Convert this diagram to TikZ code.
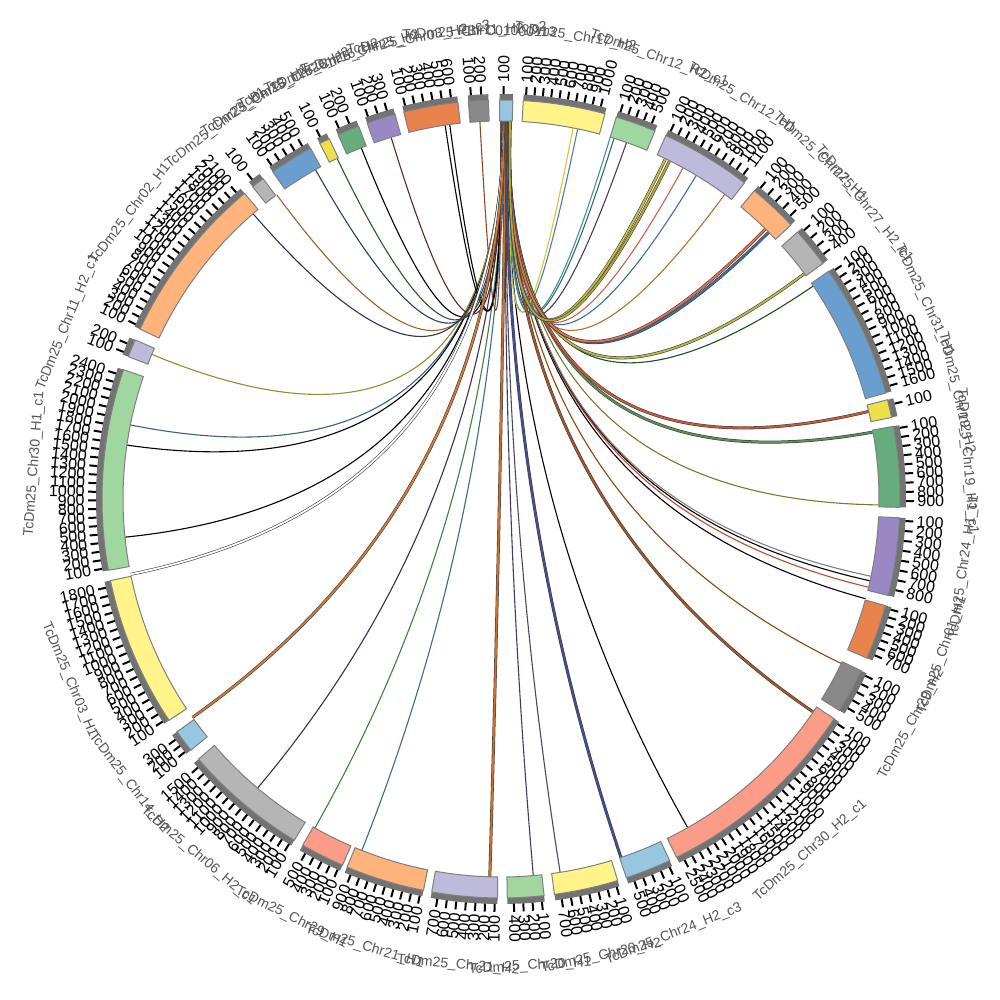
\documentclass[tikz,border=0pt]{standalone}
\usepackage{fontspec}
\setmainfont{Liberation Sans}
\usetikzlibrary{calc}
\definecolor{clblue}{HTML}{97C6E0}
\definecolor{cyel}{HTML}{FFF38A}
\definecolor{clgreen}{HTML}{A0D6A0}
\definecolor{clav}{HTML}{BDBADB}
\definecolor{clorange}{HTML}{FDB37A}
\definecolor{clgray}{HTML}{B5B5B5}
\definecolor{cblue}{HTML}{6A9ECE}
\definecolor{cyeltwo}{HTML}{EDE04A}
\definecolor{cgreen}{HTML}{66AD7E}
\definecolor{cpurple}{HTML}{9A88C4}
\definecolor{cdorange}{HTML}{E8834E}
\definecolor{cdgray}{HTML}{888888}
\definecolor{csalmon}{HTML}{FA9C88}
\definecolor{cband}{HTML}{737373}
\definecolor{cname}{HTML}{555555}
\definecolor{la}{HTML}{3F5F7A}
\definecolor{lb}{HTML}{8F8F30}
\definecolor{lc}{HTML}{3A2F4F}
\definecolor{ld}{HTML}{3F7F3F}
\definecolor{le}{HTML}{3F6A8F}
\definecolor{lf}{HTML}{3F3A6A}
\definecolor{lg}{HTML}{4A4A5A}
\definecolor{lh}{HTML}{8B4513}
\definecolor{li}{HTML}{C04A2A}
\definecolor{lj}{HTML}{7A7A2A}
\definecolor{lk}{HTML}{1F4F1F}
\definecolor{ll}{HTML}{B8702F}
\definecolor{lm}{HTML}{3A6FA8}
\definecolor{ln}{HTML}{D0604A}
\definecolor{lo}{HTML}{4F3A5F}
\definecolor{lp}{HTML}{2F6F5F}
\definecolor{lq}{HTML}{4A8FA0}
\definecolor{lr}{HTML}{4A80B0}
\definecolor{ls}{HTML}{D8C830}
\definecolor{lt}{HTML}{8B4A2A}
\definecolor{lu}{HTML}{5A2A1A}
\definecolor{lv}{HTML}{2A5A2A}
\definecolor{lw}{HTML}{2A3F6A}
\definecolor{lx}{HTML}{A0602A}
\definecolor{ly}{HTML}{333355}
\definecolor{ra}{HTML}{D07A3A}
\definecolor{rb}{HTML}{D0702A}
\definecolor{rc}{HTML}{3F4F8F}
\definecolor{rd}{HTML}{A0582A}
\definecolor{re}{HTML}{5A8F5A}
\definecolor{rf}{HTML}{C85A3A}
\definecolor{rg}{HTML}{B8B84A}
\definecolor{rh}{HTML}{3F6FA0}
\definecolor{ri}{HTML}{E07050}
\definecolor{rj}{HTML}{C8C048}
\definecolor{rk}{HTML}{B0A838}
\tikzset{
  lkthin/.style={draw=#1, line width=0.55pt},
  lkrib/.style={draw=black!75, double=#1, double distance=0.9pt, line width=0.3pt},
  segband/.style={fill=cband},
  segblock/.style={fill=#1, draw=black!50, line width=0.5pt},
  tickln/.style={draw=black, line width=1pt},
  ticklab/.style={font=\fontsize{8}{8}\selectfont, inner sep=0pt, text=black},
  chrname/.style={font=\fontsize{7}{7}\selectfont, inner sep=0pt, text=cname}
}
\begin{document}
\begin{tikzpicture}[x=0.5pt,y=0.5pt]
\useasboundingbox (0,0) rectangle (1000,1000);
\begin{scope}[shift={(501,501)}]
\coordinate (O) at (0,0);
% ---------- thin links from the hub contig ----------
\foreach \t/\c [count=\i] in {168.7/la,171.8/black,185.8/black,157.5/lb,229.9/lc,240.5/ld,248.4/le,274.9/lf,279/lg,299.6/black,334.2/lh,344.7/black,346.5/li,347.5/black,348.2/gray,359.1/lj,34.3/lk,53.7/ll,58.9/lm,61.2/ln,70.6/lo,72.6/lp,73.2/lq,78.3/lr,79/ls,97.8/black,98.5/black,93.2/lt,106.9/lu,111.7/black,115.7/lv,119.4/lw,126.4/lx,131/ly}{
  \pgfmathsetmacro\dd{mod(90-\t+720,360)}
  \pgfmathsetmacro\hh{88.5+1.5*\dd/360}
  \coordinate (ha\i) at (\hh:378);
  \coordinate (ea\i) at (\t:378);
  \draw[lkthin=\c] (ha\i) .. controls ($(ha\i)!0.667!(O)$) and ($(ea\i)!0.667!(O)$) .. (ea\i);
}
% ---------- ribbon links ----------
\foreach \t/\c [count=\i] in {191.5/white,215.3/ra,268.3/rb,288.5/rc,325.7/rd,10.2/re,13.4/rf,36.6/rg,44.9/rh,45.6/ri,64.2/rj,63.5/rk}{
  \pgfmathsetmacro\dd{mod(90-\t+720,360)}
  \pgfmathsetmacro\hh{88.5+1.5*\dd/360}
  \coordinate (hb\i) at (\hh:378);
  \coordinate (eb\i) at (\t:378);
  \draw[lkrib=\c] (hb\i) .. controls ($(hb\i)!0.667!(O)$) and ($(eb\i)!0.667!(O)$) .. (eb\i);
}
% ---------- segments, ticks, labels ----------
\foreach \a/\b/\col/\n/\nm [count=\j] in {
 90.2/88.3/clblue/1/PBFC01000113,
 86.8/74.9/cyel/10/TcDm25\_Chr17\_H2,
 73.2/67.3/clgreen/5/TcDm25\_Chr12\_H2\_c1,
 65.6/52.4/clav/11/TcDm25\_Chr12\_H1,
 50.6/43.4/clorange/5/TcDm25\_Chr27\_H1,
 42.0/36.2/clgray/4/TcDm25\_Chr27\_H2\_c1,
 34.8/15.4/cblue/16/TcDm25\_Chr31\_H1,
 14.4/11.8/cyeltwo/1/TcDm25\_Chr19\_H2,
 10.5/-1.2/cgreen/9/TcDm25\_Chr19\_H1\_c1,
 -2.7/-14.0/cpurple/8/TcDm25\_Chr24\_H1\_c1,
 -15.5/-23.5/cdorange/7/TcDm25\_Chr01\_H1,
 -25.5/-32.0/cdgray/5/TcDm25\_Chr29\_H2,
 -33.4/-63.9/csalmon/25/TcDm25\_Chr30\_H2\_c1,
 -65.0/-71.7/clblue/5/TcDm25\_Chr24\_H2\_c3,
 -73.0/-82.3/cyel/7/TcDm25\_Chr20\_H2,
 -83.8/-89.1/clgreen/4/TcDm25\_Chr20\_H1,
 -90.5/-100.0/clav/7/TcDm25\_Chr21\_H2,
 -101.2/-112.7/clorange/9/TcDm25\_Chr21\_H1,
 -113.4/-119.8/csalmon/5/TcDm25\_Chr29\_H1,
 -121.2/-139.3/clgray/15/TcDm25\_Chr06\_H2\_c1,
 -141.0/-144.3/clblue/3/TcDm25\_Chr14\_H2,
 -146.3/-168.2/cyel/18/TcDm25\_Chr03\_H1,
 190.3/161.1/clgreen/24/TcDm25\_Chr30\_H1\_c1,
 159.1/156.5/clav/2/TcDm25\_Chr11\_H2\_c1,
 154.8/130.0/clorange/21/TcDm25\_Chr02\_H1,
 128.5/126.6/clgray/1/TcDm25\_Chr23\_H1,
 124.9/118.5/cblue/5/TcDm25\_Chr13\_H1,
 117.0/115.5/cyeltwo/1/TcDm25\_Chr26\_H2,
 114.1/110.9/cgreen/2/TcDm25\_Chr16\_H2,
 109.6/105.4/cpurple/3/TcDm25\_Chr25\_H2,
 104.1/96.2/cdorange/6/TcDm25\_Chr03\_H2\_c3,
 94.7/91.8/cdgray/2/TcDm25\_Chr11\_H2\_c2}{
  \fill[segband] (\a:399) arc[start angle=\a, end angle=\b, radius=399] -- (\b:405) arc[start angle=\b, end angle=\a, radius=405] -- cycle;
  \path[segblock=\col] (\a:378) arc[start angle=\a, end angle=\b, radius=378] -- (\b:399) arc[start angle=\b, end angle=\a, radius=399] -- cycle;
  \foreach \k in {1,...,\n}{
    \pgfmathsetmacro\ta{\a-(\k-0.7)*(\a-\b)/\n}
    \pgfmathsetmacro\na{mod(\ta+540,360)-180}
    \pgfmathtruncatemacro\rt{abs(\na)<=90 ? 1 : 0}
    \draw[tickln] (\ta:405) -- (\ta:413);
    \ifnum\rt=1
      \node[ticklab, anchor=west, rotate=\na] (tk-\j-\k) at (\ta:416) {\k00};
    \else
      \node[ticklab, anchor=east, rotate=\na+180] (tk-\j-\k) at (\ta:416) {\k00};
    \fi
  }
  \pgfmathsetmacro\m{(\a+\b)/2}
  \pgfmathsetmacro\nmid{mod(\m+540,360)-180}
  \pgfmathtruncatemacro\up{\nmid>=0 ? 1 : 0}
  \ifnum\up=1
    \node[chrname, rotate=\nmid-90] (nm-\j) at (\m:468) {\nm};
  \else
    \node[chrname, rotate=\nmid+90] (nm-\j) at (\m:468) {\nm};
  \fi
}
\end{scope}
\end{tikzpicture}
\end{document}
